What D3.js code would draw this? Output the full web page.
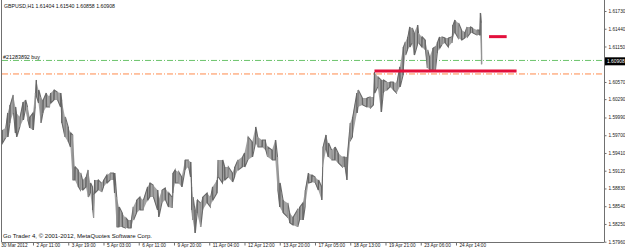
<!DOCTYPE html>
<html><head><meta charset="utf-8">
<script src="https://cdn.jsdelivr.net/npm/d3@7"></script>
<style>body{margin:0;background:#fff}svg{display:block}text{font-family:"Liberation Sans",Arial,sans-serif}</style>
</head><body><svg id="c" width="625" height="251"></svg>
<script>
// ---- data ----
const symbolTitle = "GBPUSD,H1";
const lastOHLC = [1.61404, 1.61540, 1.60858, 1.60908];
const barIdx = [4,7,9,11,14,16,17,20,23,25,27,29,32,34,35,37,39,41,44,47,48,51,54,57,58,61,64,66,68,70,73,75,77,80,82,84,86,87,88,91,94,96,99,102,105,106,108,110,113,116,118,121,123,126,129,132,136,138,141,145,146,149,152,155,158,159,161,164,167,170,173,175,176,177,179,181,184,186,190,193,195,199,200,204,206,209,213,215,218,222,224,227,231,234,236,240,243,245,249,252,254,256,259,263,265,268,272,274,277,279,282,285,288,291,294,295,298,300,303,306,309,313,315,317,320,322,326,327,331,335,338,341,342,345,348,350,353,356,359,362,365,368,370,372,374,376,378,381,382,385,388,390,392,395,397,399,401,403,406,409,412,413,415,418,421,424,426,429,431,435,437,438,439];
const highs = [1.59786,1.59818,1.60064,1.60194,1.60357,1.60162,1.60064,1.59999,1.60243,1.60276,1.60162,1.59999,1.60064,1.60390,1.60603,1.60439,1.60325,1.60276,1.60390,1.60325,1.60390,1.60439,1.60406,1.60390,1.60276,1.59999,1.59835,1.59737,1.59704,1.59182,1.59132,1.59083,1.58969,1.59018,1.59132,1.58920,1.58855,1.58723,1.58969,1.58969,1.58920,1.58969,1.59050,1.59083,1.59083,1.59083,1.58691,1.58528,1.58430,1.58348,1.58315,1.58315,1.58528,1.58642,1.58691,1.58642,1.58855,1.58920,1.58887,1.58805,1.58642,1.58805,1.58838,1.58756,1.58691,1.59083,1.59132,1.59099,1.59018,1.59296,1.59296,1.59263,1.58855,1.58691,1.58479,1.58642,1.58593,1.58691,1.58756,1.58691,1.58855,1.58969,1.59296,1.59296,1.59182,1.59182,1.59083,1.59182,1.59296,1.59345,1.59410,1.59672,1.59589,1.59835,1.59672,1.59622,1.59622,1.59508,1.59459,1.59622,1.59345,1.58920,1.58642,1.58593,1.58430,1.58365,1.58479,1.58528,1.58593,1.58805,1.59083,1.59050,1.59018,1.58969,1.58855,1.59508,1.59704,1.59573,1.59459,1.59508,1.59410,1.59345,1.59345,1.59345,1.59900,1.59999,1.60390,1.60439,1.60308,1.60308,1.60325,1.60325,1.60733,1.60652,1.60603,1.60603,1.60570,1.60570,1.60570,1.60554,1.60816,1.61142,1.61223,1.61306,1.61469,1.61452,1.61371,1.61501,1.61371,1.61306,1.61256,1.61093,1.60979,1.61125,1.61142,1.61223,1.61306,1.61306,1.61289,1.61289,1.61306,1.61501,1.61583,1.61534,1.61420,1.61387,1.61469,1.61469,1.61452,1.61420,1.61420,1.61698,1.61540];
const lows = [1.59573,1.59655,1.59672,1.59900,1.60064,1.59737,1.59672,1.59835,1.59949,1.60113,1.59949,1.59818,1.59786,1.60162,1.60325,1.60227,1.59900,1.60064,1.60162,1.60162,1.60227,1.60276,1.60276,1.60162,1.59900,1.59672,1.59589,1.59508,1.58969,1.58969,1.58855,1.58805,1.58805,1.58855,1.58691,1.58756,1.58479,1.58348,1.58756,1.58805,1.58772,1.58855,1.58920,1.58969,1.58969,1.58756,1.58201,1.58201,1.58201,1.58184,1.58184,1.58184,1.58315,1.58430,1.58479,1.58479,1.58642,1.58691,1.58691,1.58479,1.58365,1.58593,1.58642,1.58528,1.58511,1.58756,1.58920,1.58920,1.58855,1.59132,1.59182,1.59018,1.58479,1.58315,1.58103,1.58430,1.58201,1.58479,1.58593,1.58528,1.58642,1.58756,1.59018,1.58920,1.58969,1.59018,1.58936,1.59018,1.59132,1.59182,1.59182,1.59296,1.59345,1.59573,1.59508,1.59508,1.59459,1.59345,1.59296,1.59296,1.58805,1.58528,1.58430,1.58365,1.58266,1.58233,1.58201,1.58315,1.58315,1.58528,1.58920,1.58936,1.58920,1.58805,1.58642,1.59182,1.59459,1.59345,1.59296,1.59296,1.59247,1.59182,1.59182,1.58969,1.59622,1.59672,1.60064,1.60162,1.60194,1.60162,1.60145,1.60194,1.60390,1.60489,1.60080,1.60390,1.60439,1.60489,1.60439,1.60390,1.60489,1.60684,1.61011,1.61093,1.61142,1.61207,1.61011,1.61174,1.61207,1.61142,1.61093,1.60799,1.60766,1.60766,1.60766,1.61044,1.61125,1.61174,1.61207,1.61142,1.61207,1.61306,1.61371,1.61289,1.61256,1.61289,1.61306,1.61371,1.61371,1.61338,1.61338,1.61338,1.60858];
const xTickBars = [0,32,64,96,128,160,192,224,256,288,320,352,384,416];
const xTickLabels = ["30 Mar 2012","2 Apr 11:00","3 Apr 19:00","5 Apr 03:00","6 Apr 11:00","9 Apr 20:00","11 Apr 04:00","12 Apr 12:00","13 Apr 20:00","17 Apr 05:00","18 Apr 13:00","19 Apr 21:00","23 Apr 06:00","24 Apr 14:00"];
const yTicks = [1.61730,1.61440,1.61150,1.60860,1.60570,1.60290,1.59990,1.59700,1.59410,1.59120,1.58830,1.58540,1.58250,1.57960];
const orderLabel = "#21283892 buy";
const orderPrice = 1.60922;
const levelPrice = 1.60701;
const redBarsFrom = [342, 446];
const redBarsTo = [471, 462];
const redPrices = [1.60750, 1.61311];
const footer = "Go Trader 4, \u00a9 2001-2012, MetaQuotes Software Corp.";

// ---- chart ----
const svg = d3.select("#c");
const W = 625, H = 251, L = 2, R = 604, B = 242;
svg.append("rect").attr("width",W).attr("height",H).attr("fill","#fff");
const x = d3.scaleLinear().domain([0,550]).range([-2.25, 603.6]);
const y = d3.scaleLinear().domain([1.57960,1.61730]).range([241.7, 11]);

svg.append("clipPath").attr("id","pc").append("rect").attr("x",L).attr("y",0).attr("width",R-L).attr("height",B);
const plot = svg.append("g").attr("clip-path","url(#pc)");

const n = Math.min(barIdx.length, highs.length, lows.length);
const pts = d3.range(n).map(i=>({b:barIdx[i],h:highs[i],l:lows[i]}));

// order & level lines
plot.append("line").attr("x1",L).attr("x2",R).attr("y1",y(orderPrice)).attr("y2",y(orderPrice))
  .attr("stroke","#6cc46c").attr("stroke-width",1).attr("stroke-dasharray","6,2,1,2");
plot.append("line").attr("x1",L).attr("x2",R).attr("y1",y(levelPrice)).attr("y2",y(levelPrice))
  .attr("stroke","#ff8a4c").attr("stroke-width",1).attr("stroke-dasharray","6,2,1,2");

// price bars: light body plus a zig-zag high/low trace
const area = d3.area().x(d=>x(d.b)).y0(d=>y(d.l)).y1(d=>y(d.h));
plot.append("path").datum(pts).attr("d",area).attr("fill","#a4a4a4").attr("stroke","none");
const zig = [];
pts.forEach((d,i)=>{ if(i%2===0){zig.push([x(d.b),y(d.h)]);zig.push([x(d.b)+0.4,y(d.l)]);} else {zig.push([x(d.b),y(d.l)]);zig.push([x(d.b)+0.4,y(d.h)]);} });
plot.append("path").attr("d",d3.line()(zig)).attr("fill","none").attr("stroke","#6a6a6a").attr("stroke-width",1.1);
plot.selectAll("line.bar").data(pts).enter().append("line").attr("class","bar")
  .attr("x1",d=>x(d.b)).attr("x2",d=>x(d.b)).attr("y1",d=>y(d.h)).attr("y2",d=>y(d.l))
  .attr("stroke",(d,i)=>i%3===1?"#9a9a9a":"#666").attr("stroke-width",1);

// red lines
redPrices.forEach((p,i)=>{
  plot.append("line").attr("x1",x(redBarsFrom[i])).attr("x2",x(redBarsTo[i])).attr("y1",y(p)).attr("y2",y(p))
    .attr("stroke","#e3103c").attr("stroke-width",3);
});

// frame
svg.append("line").attr("x1",1.5).attr("x2",1.5).attr("y1",0).attr("y2",B).attr("stroke","#707070");
svg.append("line").attr("x1",1.5).attr("x2",R).attr("y1",B+0.5).attr("y2",B+0.5).attr("stroke","#707070");
svg.append("line").attr("x1",R+0.5).attr("x2",R+0.5).attr("y1",0).attr("y2",B+0.5).attr("stroke","#707070");

// y axis (the label under the current-price box is hidden by it)
const cp = lastOHLC[3];
const ya = svg.append("g").attr("transform",`translate(${R+0.5},0)`)
  .call(d3.axisRight(y).tickValues(yTicks).tickFormat(d=>Math.abs(d-cp)<0.001?"":d3.format(".5f")(d)).tickSize(2).tickPadding(2));
ya.select(".domain").remove();
ya.selectAll("line").attr("stroke","#707070");
ya.selectAll("text").attr("font-size","4.7px").attr("fill","#222").attr("font-family","Liberation Sans, Arial, sans-serif");

// x axis
const xa = svg.append("g").attr("transform",`translate(0,${B+0.5})`)
  .call(d3.axisBottom(x).tickValues(xTickBars).tickFormat((d,i)=>xTickLabels[i]).tickSize(3));
xa.select(".domain").remove();
xa.selectAll("line").attr("stroke","#707070");
xa.selectAll("text").attr("text-anchor","start").attr("x",3).attr("y",4.6).attr("dy","0")
  .attr("font-size","4.7px").attr("fill","#222").attr("font-family","Liberation Sans, Arial, sans-serif");

// current price box
const cy = y(cp);
svg.append("rect").attr("x",R+1).attr("y",cy-4).attr("width",W-R-1).attr("height",8).attr("fill","#000");
svg.append("text").attr("x",R+3).attr("y",cy+1.7).attr("fill","#fff").attr("font-size","4.9px").text(d3.format(".5f")(cp));

// texts
svg.append("text").attr("x",4).attr("y",8.3).attr("font-size","5.2px").attr("fill","#111")
  .attr("textLength",111).attr("lengthAdjust","spacingAndGlyphs")
  .text(symbolTitle+"  "+lastOHLC.map(d3.format(".5f")).join(" "));
svg.append("text").attr("x",3).attr("y",y(orderPrice)-1.8).attr("font-size","5.2px").attr("fill","#111")
  .attr("textLength",37).attr("lengthAdjust","spacingAndGlyphs").text(orderLabel);
svg.append("text").attr("x",3).attr("y",238).attr("font-size","5.6px").attr("fill","#111")
  .attr("textLength",149).attr("lengthAdjust","spacingAndGlyphs").text(footer);
</script></body></html>
